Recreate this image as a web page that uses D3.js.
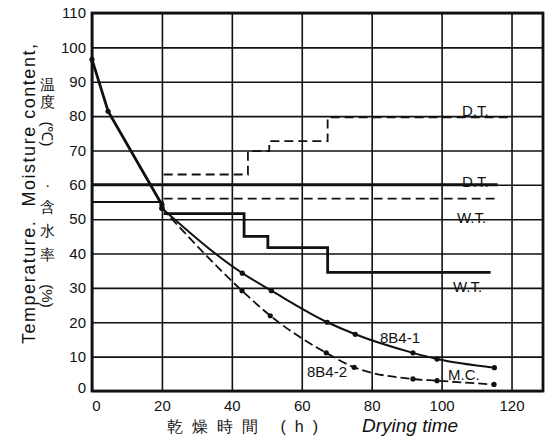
<!DOCTYPE html>
<html>
<head>
<meta charset="utf-8">
<script src="https://cdn.jsdelivr.net/npm/d3@7"></script>
<style>
  body { margin: 0; background: #fff; }
  text { font-family: "Liberation Sans", Arial, sans-serif; fill: #111; }
</style>
</head>
<body>
<svg id="chart" width="547" height="442"></svg>
<script>
// ticks
const xTicks = [0, 20, 40, 60, 80, 100, 120]
const yTicks = [0, 10, 20, 30, 40, 50, 60, 70, 80, 90, 100, 110]

// moisture content (%) - common part before 20 h
const mainHours = [0, 4.6, 20]
const mainMC = [96.5, 81.4, 54.2]
// 8B4-1
const mc1Hours = [20, 43, 51.3, 67.3, 75.3, 91.8, 98.7, 115.1]
const mc1Values = [53.2, 34.3, 29.2, 20, 16.5, 11.1, 9.3, 6.8]
// 8B4-2
const mc2Hours = [20, 42.9, 51, 67, 75, 91.8, 98.7, 115]
const mc2Values = [53.2, 29.2, 21.9, 11.1, 6.9, 3.5, 3.0, 1.9]

// temperatures (deg C), step schedules
const dtSolidHours = [0, 116]
const dtSolidTemp = [60, 60]
const wtCommonHours = [0, 20.5]
const wtCommonTemp = [55, 55]
const dtDashHours = [20.5, 44.6, 50.7, 67.4, 119]
const dtDashTemp = [63, 69.8, 72.7, 79.6, 79.6]
const wtDashHours = [20.5, 116]
const wtDashTemp = [56, 56]
const wtSolidHours = [20.5, 43.5, 50.3, 67.4, 114]
const wtSolidTemp = [51.6, 45, 41.7, 34.5, 34.5]

const zip = (a, b) => a.map((v, i) => [v, b[i]])

const svg = d3.select('#chart')
const pad = { l: 92, r: 543, t: 13, b: 391 }

const x = d3.scaleLinear().domain([0, 129]).range([pad.l, pad.r])
const y = d3.scaleLinear().domain([0, 110]).range([pad.b, pad.t])

// grid via axes
const gx = svg.append('g')
  .attr('transform', 'translate(0,' + pad.b + ')')
  .call(d3.axisBottom(x).tickValues(xTicks).tickSize(-(pad.b - pad.t)).tickPadding(9))
const gy = svg.append('g')
  .attr('transform', 'translate(' + pad.l + ',0)')
  .call(d3.axisLeft(y).tickValues(yTicks).tickSize(-(pad.r - pad.l)).tickPadding(6))

gx.select('.domain').remove()
gy.select('.domain').remove()
gx.selectAll('line').attr('stroke', '#111').attr('stroke-width', 1.6)
gy.selectAll('line').attr('stroke', '#111').attr('stroke-width', 1.6)
gx.selectAll('text').attr('font-size', 15).attr('fill', '#111')
  .attr('dx', (d) => d === 0 ? 4 : 0)
gy.selectAll('text').attr('font-size', 15).attr('fill', '#111')
  .attr('dy', (d) => d === 0 ? '0.1em' : '0.32em')

// frame
svg.append('rect')
  .attr('x', pad.l).attr('y', pad.t)
  .attr('width', pad.r - pad.l).attr('height', pad.b - pad.t)
  .attr('fill', 'none').attr('stroke', '#111').attr('stroke-width', 2.8)

const line = d3.line().x((d) => x(d[0])).y((d) => y(d[1]))
const stepLine = d3.line().x((d) => x(d[0])).y((d) => y(d[1])).curve(d3.curveStepAfter)
const smooth = d3.line().x((d) => x(d[0])).y((d) => y(d[1])).curve(d3.curveMonotoneX)

function draw(gen, data, width, dash) {
  svg.append('path')
    .attr('d', gen(data))
    .attr('fill', 'none')
    .attr('stroke', '#111')
    .attr('stroke-width', width)
    .attr('stroke-dasharray', dash || null)
}

// temperature lines
draw(line, zip(dtSolidHours, dtSolidTemp), 3)
draw(line, zip(wtCommonHours, wtCommonTemp), 2.2)
draw(stepLine, zip(dtDashHours, dtDashTemp), 1.8, '9,5')
draw(line, zip(wtDashHours, wtDashTemp), 1.8, '9,5')
draw(stepLine, zip(wtSolidHours, wtSolidTemp), 2.8)

// moisture content curves
draw(line, zip(mainHours, mainMC), 2.8)
draw(smooth, zip(mc1Hours, mc1Values), 2)
draw(smooth, zip(mc2Hours, mc2Values), 1.8, '9,4')

const dots = zip(mainHours, mainMC).concat(zip(mc1Hours, mc1Values), zip(mc2Hours, mc2Values))
svg.append('g')
  .selectAll('circle')
  .data(dots)
  .enter()
  .append('circle')
  .attr('cx', (d) => x(d[0]))
  .attr('cy', (d) => y(d[1]))
  .attr('r', 2.6)
  .attr('fill', '#111')

// curve labels
const labels = [
  { t: 'D.T.', px: 462, py: 116 },
  { t: 'D.T.', px: 462, py: 187 },
  { t: 'W.T.', px: 457, py: 223 },
  { t: 'W.T.', px: 453, py: 292 },
  { t: '8B4-1', px: 380, py: 343 },
  { t: '8B4-2', px: 307, py: 377 },
  { t: 'M.C.', px: 448, py: 380 }
]
svg.append('g')
  .selectAll('text')
  .data(labels)
  .enter()
  .append('text')
  .attr('x', (d) => d.px)
  .attr('y', (d) => d.py)
  .attr('font-size', 15)
  .text((d) => d.t)

// x axis titles
svg.append('text')
  .attr('x', 167).attr('y', 432)
  .attr('font-size', 16)
  .attr('font-family', '"Noto Sans CJK JP", sans-serif')
  .attr('letter-spacing', 9)
  .text('乾燥時間 (h)')
svg.append('text')
  .attr('x', 362).attr('y', 432)
  .attr('font-size', 19)
  .attr('font-style', 'italic')
  .text('Drying time')

// y axis titles
svg.append('text')
  .attr('transform', 'translate(35,194) rotate(-90)')
  .attr('text-anchor', 'middle')
  .attr('font-size', 18)
  .attr('textLength', 300)
  .attr('lengthAdjust', 'spacing')
  .attr('xml:space', 'preserve')
  .text('Temperature.  Moisture content,')

const jpChars = [
  { t: '温', py: 85 }, { t: '度', py: 102 }, { t: '(℃)', py: 134, rot: true },
  { t: '・', py: 186, fs: 11 }, { t: '含', py: 207 }, { t: '水', py: 231 },
  { t: '率', py: 255 }, { t: '(%)', py: 296, rot: true }
]
svg.append('g')
  .selectAll('text')
  .data(jpChars)
  .enter()
  .append('text')
  .attr('transform', (d) => 'translate(47,' + d.py + ')' + (d.rot ? ' rotate(90)' : ''))
  .attr('text-anchor', 'middle')
  .attr('dy', '0.35em')
  .attr('font-size', (d) => d.fs || 15)
  .attr('font-family', '"Noto Sans CJK JP", sans-serif')
  .text((d) => d.t)
</script>
</body>
</html>
